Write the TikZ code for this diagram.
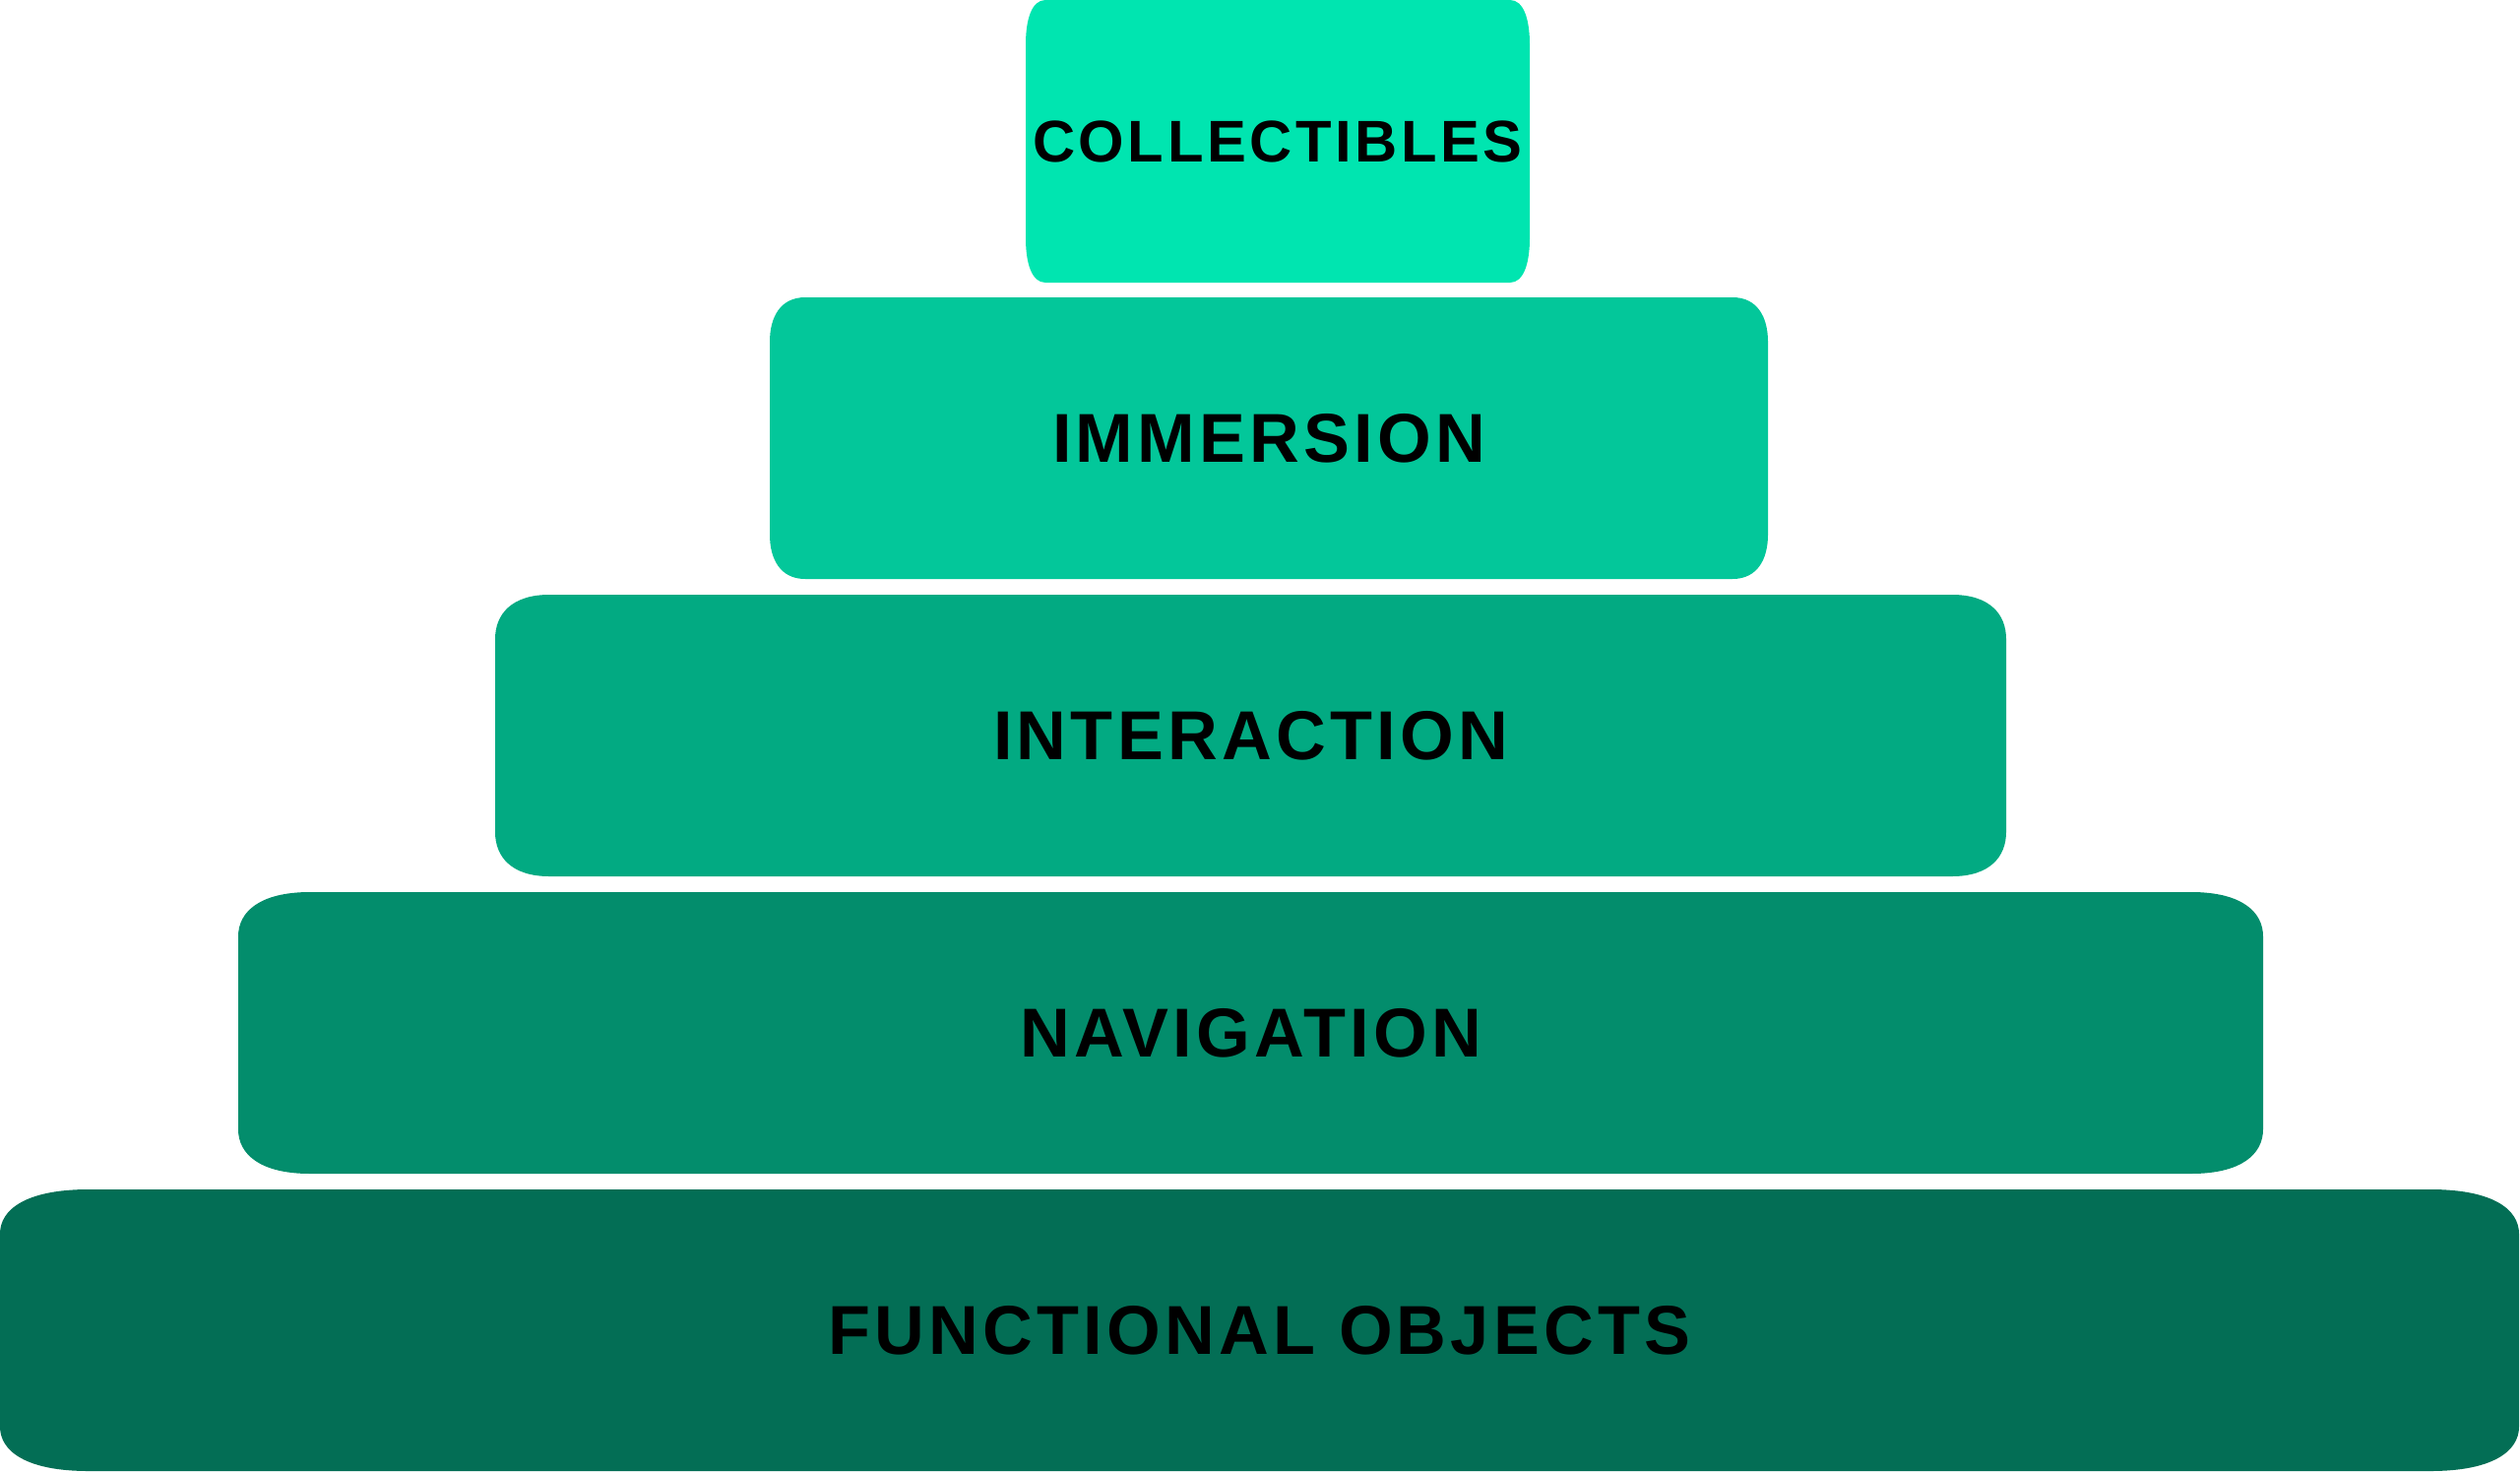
\documentclass[tikz,border=0pt]{standalone}
\usepackage{fontspec}
\setmainfont{Liberation Sans}
\newfontfamily\tierfont[LetterSpace=6]{Liberation Sans}
\usepackage{tikz}
\tikzset{tiertext/.style={font=\tierfont\bfseries\fontsize{20}{24}\selectfont, text=black}}
\definecolor{tierA}{HTML}{00E5B0}
\definecolor{tierB}{HTML}{03C79A}
\definecolor{tierC}{HTML}{02AA82}
\definecolor{tierD}{HTML}{038D6C}
\definecolor{tierE}{HTML}{036E55}
% #1 name, #2 left, #3 right, #4 top, #5 bottom, #6 inset, #7 colour, #8 label
\newcommand{\tier}[8]{%
  \fill[#7] (#2+#6,#4) -- (#3-#6,#4)
     .. controls (#3-0.3*#6,#4) and (#3,#4+0.2) .. (#3,#4+0.45)
     -- (#3,#5-0.45)
     .. controls (#3,#5-0.2) and (#3-0.3*#6,#5) .. (#3-#6,#5)
     -- (#2+#6,#5)
     .. controls (#2+0.3*#6,#5) and (#2,#5-0.2) .. (#2,#5-0.45)
     -- (#2,#4+0.45)
     .. controls (#2,#4+0.2) and (#2+0.3*#6,#4) .. (#2+#6,#4) -- cycle;
  \node[tiertext] (#1) at ({(#2+#3)/2},{(#4+#5)/2}) {#8};}
\begin{document}
\begin{tikzpicture}[x=1cm,y=-1cm]
  \useasboundingbox (0,0) rectangle (25.6,14.95);
  \tier{collectibles}{10.42}{15.54}{0}{2.87}{0.2}{tierA}{\fontsize{17}{20}\selectfont COLLECTIBLES}
  \tier{immersion}{7.82}{17.96}{3.02}{5.88}{0.36}{tierB}{IMMERSION}
  \tier{interaction}{5.03}{20.38}{6.04}{8.90}{0.55}{tierC}{INTERACTION}
  \tier{navigation}{2.42}{22.99}{9.06}{11.92}{0.73}{tierD}{NAVIGATION}
  \tier{functional}{0}{25.59}{12.08}{14.94}{0.9}{tierE}{FUNCTIONAL OBJECTS}
\end{tikzpicture}
\end{document}
